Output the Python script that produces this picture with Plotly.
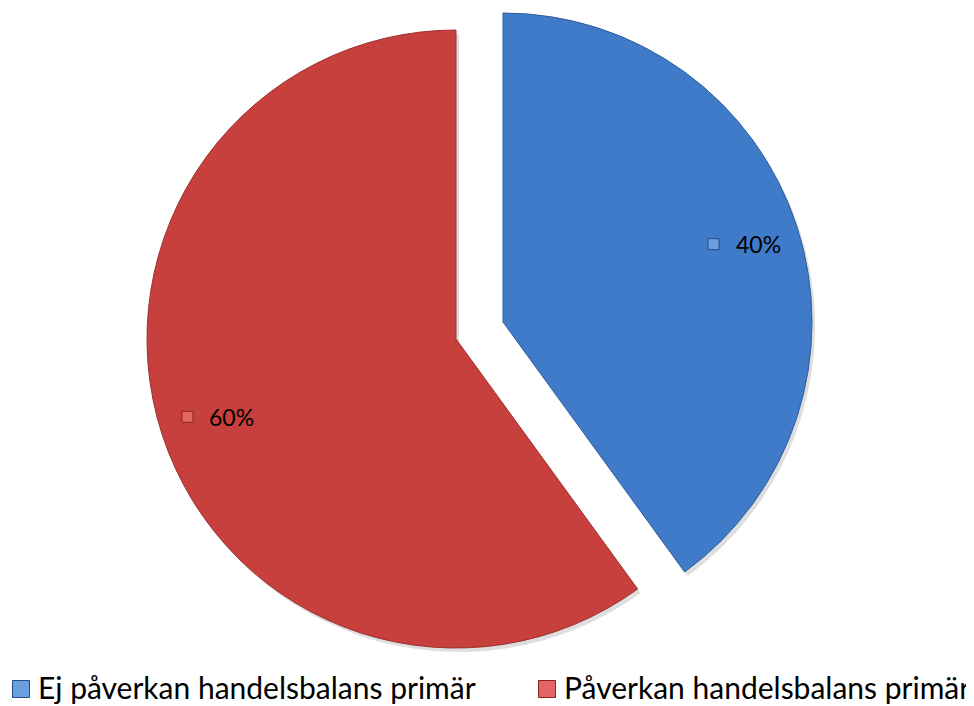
import math

import plotly.graph_objects as go

# data
labels = ["Ej påverkan handelsbalans primär", "Påverkan handelsbalans primär"]
values = [40, 60]
colors = ["#3F7BC8", "#C8403D"]
edge_colors = ["#2F5E9C", "#9A302E"]
icon_colors = ["#6A9FE0", "#E46664"]
icon_edges = ["#244C86", "#862523"]

# the page adds an 8px body margin, so the figure is drawn 8px smaller and
# all positions below (given in page pixels) are shifted by OFF
OFF = 8
W, H = 974 - OFF, 706 - OFF
R = 309
# slice centres (blue one is pulled out toward its mid-angle)
centres = [(503, 322), (456, 339)]
LABEL_FRAC = 0.815
FONT = "Lato, 'Open Sans', sans-serif"
legend_x = [12, 538]
legend_y = 687


def domain(cx, cy, r):
    cx, cy = cx - OFF, cy - OFF
    return dict(
        x=[(cx - r) / W, (cx + r) / W],
        y=[1 - (cy + r) / H, 1 - (cy - r) / H],
    )


def square(x, y, size, fill, edge):
    h = size / 2
    x, y = x - OFF, y - OFF
    return dict(type="rect", xref="x", yref="y", layer="above",
                x0=x - h, x1=x + h, y0=y - h, y1=y + h,
                fillcolor=fill, line=dict(width=1, color=edge))


def label(x, y, text, size):
    return dict(
        x=x - OFF, y=y - OFF, xref="x", yref="y", xanchor="left", yanchor="middle",
        text=text, showarrow=False,
        font=dict(family=FONT, size=size, color="#000000"),
    )


fig = go.Figure()

total = sum(values)
mids = []
acc = 0
for v in values:
    mids.append((acc + v / 2) / total * 2 * math.pi)
    acc += v

# soft shadows, then slices (one trace per slice so each can sit on its own centre)
for i, (cx, cy) in enumerate(centres):
    shadow = ["rgba(0,0,0,0)"] * len(values)
    shadow[i] = "rgba(0,0,0,0.13)"
    fig.add_trace(go.Pie(
        labels=labels, values=values, sort=False, direction="clockwise",
        marker=dict(colors=shadow, line=dict(width=0)),
        domain=domain(cx + 3, cy + 4, R), textinfo="none", hoverinfo="skip",
        showlegend=False,
    ))
for i, (cx, cy) in enumerate(centres):
    fill = ["rgba(0,0,0,0)"] * len(values)
    fill[i] = colors[i]
    line = ["rgba(0,0,0,0)"] * len(values)
    line[i] = edge_colors[i]
    fig.add_trace(go.Pie(
        labels=labels, values=values, sort=False, direction="clockwise",
        marker=dict(colors=fill, line=dict(width=1, color=line)),
        domain=domain(cx, cy, R), textinfo="none",
        showlegend=False,
    ))

shapes, annotations = [], []

# percentage labels with small square icons
for i, (cx, cy) in enumerate(centres):
    ax = cx + LABEL_FRAC * R * math.sin(mids[i])
    ay = cy - LABEL_FRAC * R * math.cos(mids[i])
    shapes.append(square(ax - 29, ay, 11, icon_colors[i], icon_edges[i]))
    annotations.append(label(ax - 9, ay, f"{values[i] / total:.0%}", 23))

# legend drawn at the bottom
for i, lab in enumerate(labels):
    shapes.append(square(legend_x[i] + 9, legend_y + 2, 17, icon_colors[i], icon_edges[i]))
    annotations.append(label(legend_x[i] + 24, legend_y, lab, 30))

fig.update_layout(
    width=W,
    height=H,
    margin=dict(l=0, r=0, t=0, b=0),
    paper_bgcolor="#ffffff",
    plot_bgcolor="rgba(0,0,0,0)",
    xaxis=dict(range=[0, W], visible=False, fixedrange=True),
    yaxis=dict(range=[H, 0], visible=False, fixedrange=True),
    shapes=shapes,
    annotations=annotations,
    showlegend=False,
)

fig.write_html("out.html")
